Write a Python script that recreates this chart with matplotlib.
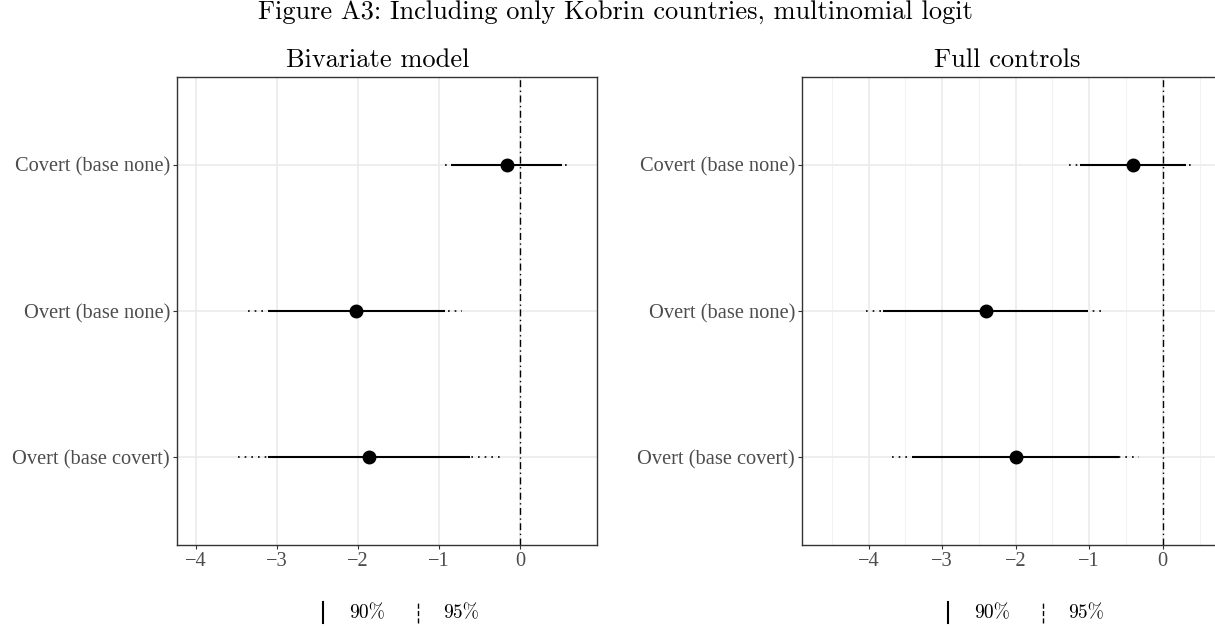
import numpy as np
import matplotlib
matplotlib.use('Agg')
import matplotlib.pyplot as plt
from matplotlib.lines import Line2D
from matplotlib.legend_handler import HandlerBase

# data
labels = ['Covert (base none)', 'Overt (base none)', 'Overt (base covert)']

biv_est = [-0.16, -2.02, -1.86]
biv_lo90 = [-0.85, -3.11, -3.11]
biv_hi90 = [0.52, -0.93, -0.62]
biv_lo95 = [-0.93, -3.35, -3.48]
biv_hi95 = [0.60, -0.72, -0.25]

full_est = [-0.41, -2.40, -1.99]
full_lo90 = [-1.12, -3.80, -3.41]
full_hi90 = [0.32, -1.01, -0.60]
full_lo95 = [-1.28, -4.03, -3.68]
full_hi95 = [0.41, -0.77, -0.33]

TITLE_FONT = 'cmr10'
TICK_FONT = 'Liberation Serif'
W, H = 1215, 626


class VLineHandler(HandlerBase):
    # draws legend keys as short vertical lines
    def create_artists(self, legend, orig_handle, xdescent, ydescent,
                       width, height, fontsize, trans):
        x = width / 2 - xdescent
        line = Line2D([x, x], [-ydescent - 0.35 * height, height * 1.2 - ydescent],
                      color='black', linestyle=orig_handle.get_linestyle(),
                      linewidth=orig_handle.get_linewidth(), transform=trans)
        return [line]


def draw_panel(ax, est, lo90, hi90, lo95, hi95, xlim):
    y = np.arange(1, len(labels) + 1)
    ax.axvline(0, color='black', linewidth=1.0, linestyle=(0, (5, 2.5, 1, 2.5)), zorder=2)
    ax.hlines(y, lo95, hi95, color='black', linewidth=1.2, linestyle=(0, (1, 3)), zorder=3)
    ax.hlines(y, lo90, hi90, color='black', linewidth=1.5, zorder=4)
    ax.plot(est, y, 'o', color='black', markersize=9, zorder=5)

    ax.set_xlim(*xlim)
    ax.set_ylim(3.6, 0.4)
    ax.set_yticks(y)
    ax.set_yticklabels(labels)
    ax.set_xticks(np.arange(np.ceil(xlim[0]), xlim[1], 1))
    ax.set_xticks(np.arange(np.ceil(xlim[0] * 2) / 2, xlim[1], 1), minor=True)
    ax.set_xticklabels([f'\u2212{abs(int(v))}' if v < 0 else f'{int(v)}'
                        for v in ax.get_xticks()])

    ax.grid(True, which='major', color='#EBEBEB', linewidth=1.2, zorder=0)
    ax.grid(True, which='minor', axis='x', color='#F2F2F2', linewidth=0.8, zorder=0)
    ax.set_axisbelow(True)
    for s in ax.spines.values():
        s.set_color('#333333')
        s.set_linewidth(1.0)
    ax.tick_params(which='major', length=3, width=0.8, color='#333333',
                   labelcolor='#4D4D4D', labelsize=14.7, pad=2)
    ax.tick_params(which='minor', length=0)
    for t in ax.get_xticklabels() + ax.get_yticklabels():
        t.set_fontfamily(TICK_FONT)

    handles = [Line2D([], [], color='black', linestyle='-', linewidth=1.5),
               Line2D([], [], color='black', linestyle=(0, (0.8, 2.4)), linewidth=1.0)]
    leg = ax.legend(handles, ['90%', '95%'], handler_map={Line2D: VLineHandler()},
                    loc='upper center', bbox_to_anchor=(0.522, -0.09), ncol=2,
                    frameon=False, prop={'family': TITLE_FONT, 'size': 14},
                    handlelength=1.0, handletextpad=0.8, columnspacing=1.2)
    return leg


fig = plt.figure(figsize=(W / 100, H / 100), dpi=100)
ax1 = fig.add_axes([177 / W, 81 / H, 420 / W, 468 / H])
ax2 = fig.add_axes([802 / W, 81 / H, 420 / W, 468 / H])

draw_panel(ax1, biv_est, biv_lo90, biv_hi90, biv_lo95, biv_hi95, (-4.23, 0.95))
draw_panel(ax2, full_est, full_lo90, full_hi90, full_lo95, full_hi95, (-4.905, 0.805))

fig.text(615 / W, 1 - 19 / H, 'Figure A3: Including only Kobrin countries, multinomial logit',
         ha='center', va='baseline', fontfamily=TITLE_FONT, fontsize=19)
fig.text(378 / W, 1 - 67 / H, 'Bivariate model',
         ha='center', va='baseline', fontfamily=TITLE_FONT, fontsize=19)
fig.text(1007 / W, 1 - 67 / H, 'Full controls',
         ha='center', va='baseline', fontfamily=TITLE_FONT, fontsize=19)

fig.savefig('out.png', dpi=100)
